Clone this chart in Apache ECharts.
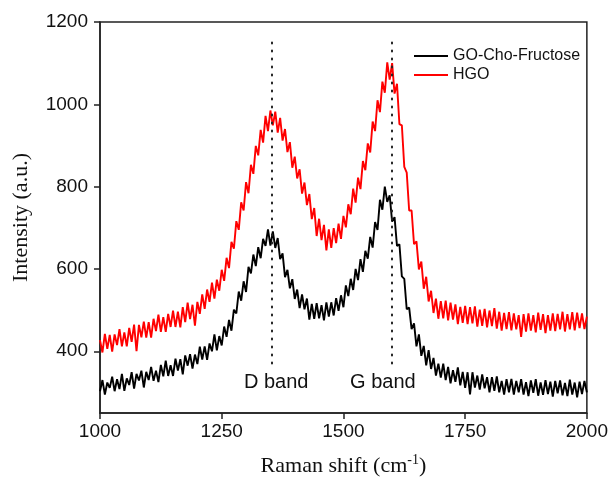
<!DOCTYPE html>
<html>
<head>
<meta charset="utf-8">
<title>Raman</title>
<script src="https://cdn.jsdelivr.net/npm/echarts@6.0.0/dist/echarts.min.js"></script>
<style>
    html, body { margin: 0; padding: 0; background: #fff; }
    #chart { width: 611px; height: 482px; }
</style>
</head>
<body>
<div id="chart"></div>
<script>
// raman shift grid, 1000..2000 cm-1 every 5
var shiftStart = 1000;
var shiftStep = 5;
var xTicks = [1000, 1250, 1500, 1750, 2000];
var yTicks = [400, 600, 800, 1000, 1200];
var seriesNames = ['GO-Cho-Fructose', 'HGO'];
var bandNames = ['D band', 'G band'];
var bandPos = [1353, 1600];

// GO-Cho-Fructose (black)
var goCho = [
    303, 330, 295, 324, 311, 338, 303, 332, 308, 345,
    304, 334, 318, 349, 309, 345, 329, 353, 312, 350,
    330, 362, 328, 353, 325, 367, 339, 377, 340, 366,
    340, 382, 353, 381, 344, 390, 365, 393, 358, 392,
    369, 411, 380, 412, 379, 419, 400, 441, 402, 437,
    414, 460, 435, 476, 450, 501, 492, 545, 523, 570,
    544, 605, 589, 635, 607, 653, 626, 673, 656, 696,
    657, 691, 651, 675, 624, 638, 580, 598, 553, 575,
    527, 550, 505, 538, 502, 528, 477, 515, 479, 517,
    480, 512, 475, 519, 484, 519, 487, 529, 498, 536,
    507, 560, 534, 576, 549, 600, 573, 624, 593, 644,
    625, 678, 652, 714, 695, 768, 744, 800, 763, 779,
    715, 726, 656, 660, 582, 576, 502, 506, 454, 468,
    412, 441, 389, 413, 366, 403, 357, 384, 341, 370,
    336, 370, 330, 362, 322, 354, 326, 361, 317, 350,
    311, 349, 295, 349, 312, 341, 307, 344, 310, 337,
    300, 337, 304, 339, 300, 328, 295, 332, 300, 333,
    295, 328, 300, 332, 295, 325, 291, 329, 299, 332,
    292, 324, 294, 330, 296, 326, 290, 328, 298, 329,
    293, 323, 291, 331, 295, 324, 288, 326, 296, 328,
    300
];

// HGO (red)
var hgo = [
    427, 397, 442, 406, 440, 399, 441, 415, 454, 412,
    446, 412, 457, 423, 465, 400, 464, 434, 472, 433,
    471, 433, 479, 449, 489, 447, 483, 447, 491, 459,
    499, 459, 496, 458, 507, 471, 518, 478, 513, 462,
    520, 491, 538, 503, 550, 520, 567, 528, 574, 547,
    598, 571, 627, 602, 666, 649, 716, 695, 762, 742,
    811, 784, 853, 831, 899, 876, 938, 907, 972, 935,
    985, 949, 982, 931, 967, 912, 940, 884, 908, 846,
    873, 820, 842, 783, 810, 755, 782, 721, 748, 680,
    722, 670, 707, 645, 696, 651, 699, 663, 710, 673,
    729, 701, 757, 733, 795, 761, 822, 794, 862, 840,
    905, 883, 958, 935, 1010, 981, 1055, 1028, 1102, 1060,
    1100, 1026, 1050, 952, 949, 848, 834, 742, 742, 660,
    667, 599, 618, 552, 581, 521, 547, 493, 528, 479,
    522, 480, 523, 475, 518, 477, 514, 466, 508, 469,
    510, 466, 507, 468, 509, 460, 501, 462, 503, 458,
    499, 461, 505, 455, 496, 450, 493, 454, 495, 451,
    492, 453, 488, 435, 490, 448, 492, 450, 488, 446,
    494, 452, 490, 444, 488, 450, 492, 449, 491, 453,
    496, 448, 490, 453, 495, 451, 494, 456, 492, 454,
    484
];

function toPairs(vals) {
    var out = [];
    for (var i = 0; i < vals.length; i++) {
        out.push([shiftStart + i * shiftStep, vals[i]]);
    }
    return out;
}

var chart = echarts.init(document.getElementById('chart'));
var sans = 'Liberation Sans';
var serif = 'Liberation Serif';
var plain = function (v) { return String(v); };

var option = {
    animation: false,
    backgroundColor: '#fff',
    grid: {
        left: 100, right: 24, top: 22, bottom: 63,
        show: true, borderColor: '#222', borderWidth: 1.5
    },
    legend: {
        orient: 'vertical',
        left: 409, top: 43,
        icon: 'rect',
        itemWidth: 34, itemHeight: 2, itemGap: 3,
        data: seriesNames,
        textStyle: { fontFamily: sans, fontSize: 16, color: '#111' }
    },
    xAxis: {
        type: 'value',
        min: 1000, max: 2000, interval: 250,
        axisLine: { lineStyle: { color: '#222', width: 1.5 } },
        axisTick: { length: 6, lineStyle: { color: '#222', width: 1.5 } },
        axisLabel: {
            margin: 9, fontFamily: sans, fontSize: 19, color: '#111',
            customValues: xTicks, formatter: plain
        },
        splitLine: { show: false },
        name: '{t|Raman shift (cm}{s|-1}{t|)}',
        nameLocation: 'middle',
        nameGap: 40,
        nameTextStyle: {
            rich: {
                t: { fontFamily: serif, fontSize: 22, color: '#111' },
                s: { fontFamily: serif, fontSize: 14, color: '#111', padding: [0, 0, 12, 0] }
            }
        }
    },
    yAxis: {
        type: 'value',
        min: 250, max: 1200,
        axisLine: { lineStyle: { color: '#222', width: 1.5 } },
        axisTick: { length: 6, lineStyle: { color: '#222', width: 1.5 }, customValues: yTicks },
        axisLabel: {
            margin: 12, fontFamily: sans, fontSize: 19, color: '#111',
            customValues: yTicks, formatter: plain
        },
        splitLine: { show: false },
        name: 'Intensity (a.u.)',
        nameLocation: 'middle',
        nameGap: 68,
        nameTextStyle: { fontFamily: serif, fontSize: 22, color: '#111' }
    },
    series: [
        {
            name: seriesNames[0],
            type: 'line',
            data: toPairs(goCho),
            symbol: 'none',
            lineStyle: { color: '#000', width: 1.9 },
            itemStyle: { color: '#000' },
            markLine: {
                silent: true,
                symbol: 'none',
                label: { show: false },
                lineStyle: { color: '#222', width: 2, type: [1, 7], cap: 'round' },
                data: [
                    [{ coord: [bandPos[0], 1150] }, { coord: [bandPos[0], 365] }],
                    [{ coord: [bandPos[1], 1150] }, { coord: [bandPos[1], 365] }]
                ]
            },
            z: 3
        },
        {
            name: seriesNames[1],
            type: 'line',
            data: toPairs(hgo),
            symbol: 'none',
            lineStyle: { color: '#ff0000', width: 1.9 },
            itemStyle: { color: '#ff0000' },
            markPoint: {
                silent: true,
                symbol: 'circle',
                symbolSize: 1,
                itemStyle: { color: 'rgba(0,0,0,0)' },
                label: {
                    show: true, position: 'inside',
                    fontFamily: sans, fontSize: 20, color: '#111',
                    formatter: function (p) { return p.name; }
                },
                data: [
                    { name: bandNames[0], coord: [1362, 323] },
                    { name: bandNames[1], coord: [1581, 323] }
                ]
            },
            z: 2
        }
    ]
};
chart.setOption(option);
</script>
</body>
</html>
